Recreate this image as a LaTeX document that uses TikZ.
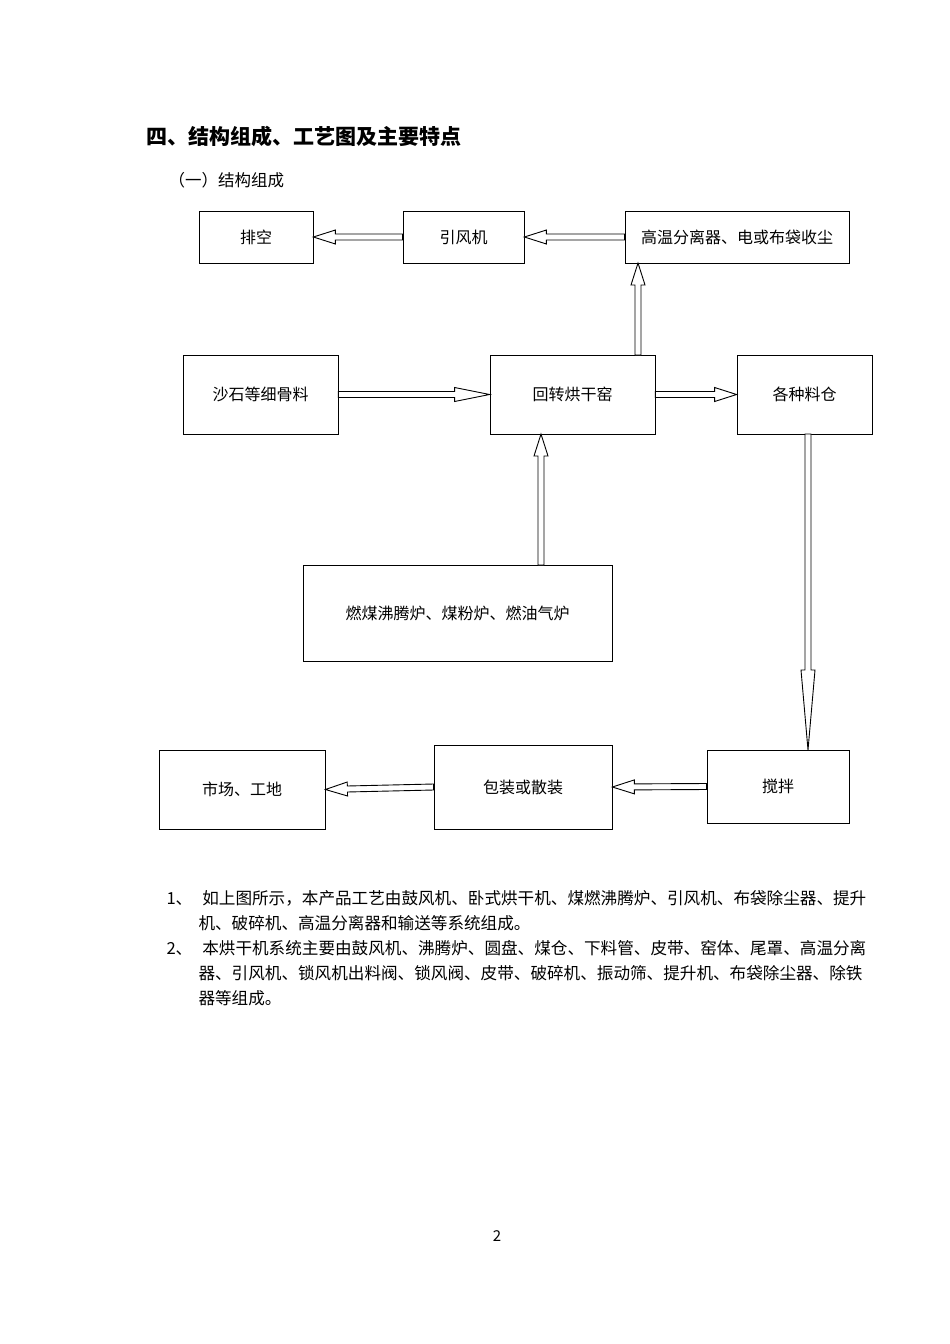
\documentclass[tikz,border=0pt]{standalone}
\usepackage{fontspec}
\newfontfamily\cjk{Noto Sans CJK SC}
\usetikzlibrary{calc}
\tikzset{box/.style={draw,thick,inner sep=0pt,font=\cjk\fontsize{16}{18}\selectfont},
 arr/.style={draw,line width=0.9pt,fill=white}}
\newcommand\harr[3]{\draw[arr] let \p1=(#1),\p2=(#2),\n1={atan2(\y2-\y1,\x2-\x1)},\n2={veclen(\x2-\x1,\y2-\y1)} in
 [shift={(\p1)},rotate=\n1] (0,-3) -- ({\n2-#3},-3) -- ({\n2-#3},-7) -- (\n2,0) -- ({\n2-#3},7) -- ({\n2-#3},3) -- (0,3) -- cycle;}
\begin{document}
\begin{tikzpicture}[x=1pt,y=-1pt]
\useasboundingbox (0,0) rectangle (950,1344);
\newcommand\bx[6]{\node[box,minimum width={#4-#2},minimum height={#5-#3}] (#1) at ({(#2+#4)/2},{(#3+#5)/2}) {#6};}
\bx{pk}{199}{211}{313}{263}{排空}
\bx{fan}{403}{211}{524}{263}{引风机}
\bx{sep}{625}{211}{849}{263}{高温分离器、电或布袋收尘}
\bx{sand}{183}{355}{338}{434}{沙石等细骨料}
\bx{kiln}{490}{355}{655}{434}{回转烘干窑}
\bx{bin}{737}{355}{872}{434}{各种料仓}
\bx{furn}{303}{565}{612}{661}{燃煤沸腾炉、煤粉炉、燃油气炉}
\bx{mkt}{159}{750}{325}{829}{市场、工地}
\bx{pack}{434}{745}{612}{829}{包装或散装}
\bx{mix}{707}{750}{849}{823}{搅拌}
\harr{fan.west}{pk.east}{22}
\harr{sep.west}{fan.east}{22}
\coordinate (k1) at (638,355); \coordinate (s1) at (638,263);
\harr{k1}{s1}{22}
\harr{sand.east}{kiln.west}{35}
\harr{kiln.east}{bin.west}{22}
\coordinate (f1) at (541,565); \coordinate (k2) at (541,434);
\harr{f1}{k2}{22}
\coordinate (b1) at (808,434); \coordinate (m1) at (808,750);
\harr{b1}{m1}{80}
\harr{mix.west}{pack.east}{22}
\harr{pack.west}{mkt.east}{22}
\node[anchor=west,font=\cjk\bfseries\fontsize{21}{24}\selectfont] (t1) at (143,136) {四、结构组成、工艺图及主要特点};
\node[anchor=west,font=\cjk\fontsize{16.5}{20}\selectfont] (t2) at (165,180) {（一）结构组成};
\node[anchor=north west,font=\cjk\fontsize{16.6}{25}\selectfont,text width=720,align=left] (p1) at (163,887)
 {1、\hspace{10pt}如上图所示，本产品工艺由鼓风机、卧式烘干机、煤燃沸腾炉、引风机、布袋除尘器、提升\\\hspace*{32pt}机、破碎机、高温分离器和输送等系统组成。\\
 2、\hspace{10pt}本烘干机系统主要由鼓风机、沸腾炉、圆盘、煤仓、下料管、皮带、窑体、尾罩、高温分离\\\hspace*{32pt}器、引风机、锁风机出料阀、锁风阀、皮带、破碎机、振动筛、提升机、布袋除尘器、除铁\\\hspace*{32pt}器等组成。};
\node[font=\cjk\fontsize{15}{18}\selectfont] (pg) at (497,1236) {2};
\end{tikzpicture}
\end{document}
